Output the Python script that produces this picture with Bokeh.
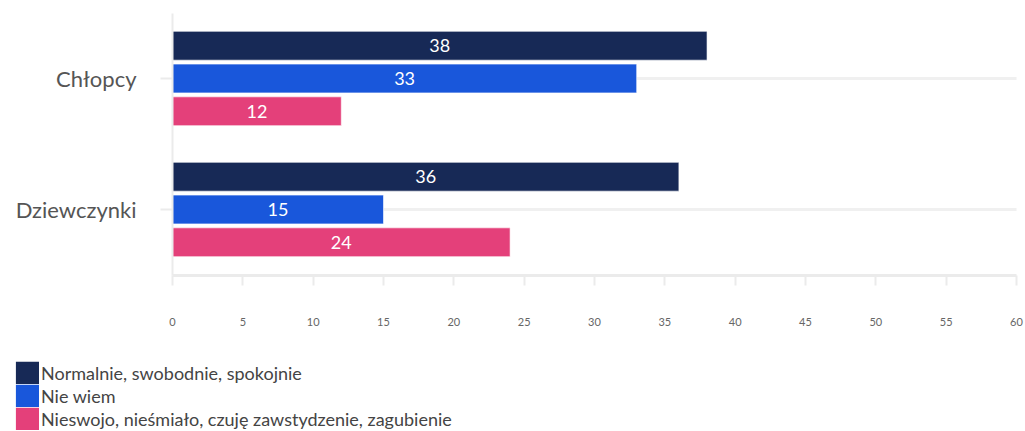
from bokeh.plotting import figure
from bokeh.models import Range1d, ColumnDataSource, FixedTicker, Legend, LegendItem
from bokeh.transform import dodge
from bokeh.core.properties import value
from bokeh.embed import file_html
from bokeh.resources import INLINE

categories = ["Chłopcy", "Dziewczynki"]
series_names = ["Normalnie, swobodnie, spokojnie", "Nie wiem",
                "Nieswojo, nieśmiało, czuję zawstydzenie, zagubienie"]
normalnie = [38, 36]
nie_wiem = [33, 15]
nieswojo = [12, 24]
colors = ["#172956", "#1957DB", "#E4407A"]
x_ticks = [0, 5, 10, 15, 20, 25, 30, 35, 40, 45, 50, 55, 60]

FONT = "Lato"
W, H = 1025, 431

# category slots on a numeric axis: first category on top
ypos = [len(categories) - i - 0.5 for i in range(len(categories))]

src = ColumnDataSource(dict(
    y=ypos,
    x0=[x_ticks[0]] * len(categories), x1=[x_ticks[-1]] * len(categories),
    s0=normalnie, s1=nie_wiem, s2=nieswojo,
    h0=[v / 2 for v in normalnie], h1=[v / 2 for v in nie_wiem], h2=[v / 2 for v in nieswojo],
    t0=[str(v) for v in normalnie], t1=[str(v) for v in nie_wiem], t2=[str(v) for v in nieswojo],
))

# layout: frame covers the whole canvas; data 0..60 sits between px 172 and 1016
left_px, right_px = 172, 1016
kx = (right_px - left_px) / (x_ticks[-1] - x_ticks[0])
top_px, slot_px = 12.5, 131.0
ny = len(categories)
y_top = ny + top_px / slot_px
y_bot = y_top - H / slot_px

p = figure(width=W, height=H, output_backend="svg", toolbar_location=None,
           x_range=Range1d(x_ticks[0] - left_px / kx, x_ticks[0] + (W - left_px) / kx),
           y_range=Range1d(y_bot, y_top),
           min_border_left=0, min_border_right=0, min_border_top=0, min_border_bottom=0)
p.outline_line_color = None
p.xgrid.grid_line_color = None
p.ygrid.grid_line_color = None

# horizontal grid lines at the category slots, across the value axis only
p.segment(x0="x0", x1="x1", y0="y", y1="y", source=src, line_color="#f0f0f0", line_width=3)

offsets = [0.25, 0.0, -0.25]
items = []
for i, off in enumerate(offsets):
    p.hbar(y=dodge("y", off), right=f"s{i}", left=0, height=0.22,
           source=src, fill_color=colors[i], line_color="#ffffff", line_alpha=0.6, line_width=1)
    p.text(x=f"h{i}", y=dodge("y", off), text=f"t{i}", source=src,
           text_color="white", text_align="center", text_baseline="middle",
           text_font=value(FONT), text_font_size="18px")
    # hidden twin used only for the legend swatch
    lr = p.hbar(y=dodge("y", off), right=f"s{i}", left=0, height=0.22,
                source=src, fill_color=colors[i], line_color=colors[i], line_width=4,
                line_join="miter", visible=False)
    items.append(LegendItem(label=series_names[i], renderers=[lr]))

legend = Legend(items=items, location=(15, 1), orientation="vertical",
                glyph_width=24, glyph_height=23, label_height=23, spacing=0, padding=0, margin=0,
                label_standoff=2, border_line_alpha=0, background_fill_alpha=0,
                label_text_font=FONT, label_text_font_size="18px", label_text_color="#444444")
p.add_layout(legend, "center")

# x axis
xa = p.xaxis[0]
xa.fixed_location = 0
xa.bounds = (x_ticks[0], x_ticks[-1])
xa.ticker = FixedTicker(ticks=x_ticks)
xa.axis_line_color = "#ebebeb"
xa.axis_line_width = 3
xa.major_tick_line_color = "#ebebeb"
xa.major_tick_line_width = 2
xa.major_tick_out = 10
xa.major_tick_in = 0
xa.minor_tick_line_color = None
xa.major_label_standoff = 33
xa.major_label_text_font = FONT
xa.major_label_text_font_size = "11px"
xa.major_label_text_color = "#666666"

# y axis
ya = p.yaxis[0]
ya.fixed_location = x_ticks[0]
ya.bounds = (0, ny)
ya.ticker = FixedTicker(ticks=ypos)
ya.major_label_overrides = {y: c for y, c in zip(ypos, categories)}
ya.axis_line_color = "#ebebeb"
ya.axis_line_width = 2
ya.major_tick_line_color = "#ebebeb"
ya.major_tick_line_width = 2
ya.major_tick_out = 12
ya.major_tick_in = 0
ya.minor_tick_line_color = None
ya.major_label_standoff = 24
ya.major_label_text_font = FONT
ya.major_label_text_font_size = "22px"
ya.major_label_text_color = "#555555"

open("out.html", "w").write(file_html(p, INLINE))
